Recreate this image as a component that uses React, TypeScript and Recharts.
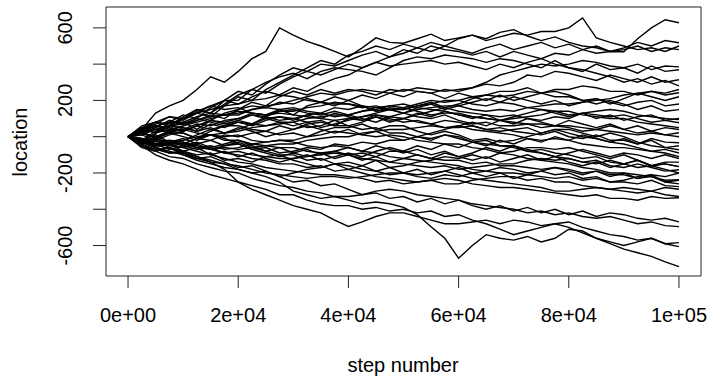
import { LineChart, Line, XAxis, YAxis, ReferenceArea, Customized } from "recharts";

const steps = [
  0, 2500, 5000, 7500, 10000, 12500, 15000, 17500, 20000, 22500, 25000, 27500, 30000, 32500,
  35000, 37500, 40000, 42500, 45000, 47500, 50000, 52500, 55000, 57500, 60000, 62500, 65000,
  67500, 70000, 72500, 75000, 77500, 80000, 82500, 85000, 87500, 90000, 92500, 95000, 97500,
  100000,
];

const walk01 = [0, 40, 130, 170, 200, 260, 330, 300, 360, 430, 470, 600, 560, 525, 500, 470, 440, 490, 545, 520, 515, 540, 565, 530, 545, 560, 540, 575, 590, 555, 530, 550, 520, 500, 490, 470, 480, 500, 470, 490, 480];
const walk02 = [0, -20, 30, 60, 100, 130, 110, 170, 220, 200, 260, 300, 340, 380, 420, 400, 450, 470, 500, 480, 510, 490, 520, 500, 540, 560, 530, 550, 570, 560, 580, 580, 600, 655, 545, 520, 500, 480, 490, 470, 500];
const walk03 = [0, 30, 60, 40, 100, 150, 130, 200, 250, 230, 290, 340, 380, 360, 400, 390, 420, 450, 470, 440, 480, 460, 500, 480, 470, 450, 470, 440, 470, 450, 430, 460, 450, 480, 460, 470, 468, 540, 600, 645, 628];
const walk04 = [0, 50, 20, 80, 120, 100, 160, 200, 200, 260, 300, 330, 350, 320, 360, 380, 370, 360, 340, 380, 420, 440, 430, 450, 440, 430, 410, 430, 420, 400, 380, 420, 380, 360, 400, 370, 380, 350, 390, 360, 369];
const walk05 = [0, -30, 20, 60, 80, 40, 90, 130, 150, 190, 170, 220, 250, 230, 260, 240, 260, 250, 230, 260, 250, 270, 260, 250, 260, 270, 290, 280, 300, 340, 330, 360, 350, 330, 310, 340, 320, 300, 330, 300, 314];
const walk06 = [0, 30, 60, 40, 60, 90, 120, 100, 150, 170, 160, 190, 180, 210, 190, 220, 200, 230, 210, 240, 220, 250, 240, 210, 240, 220, 200, 230, 200, 220, 240, 250, 230, 200, 210, 180, 210, 240, 220, 200, 220];
const walk07 = [0, 50, 80, 110, 100, 140, 170, 150, 160, 130, 120, 150, 120, 170, 190, 170, 200, 170, 140, 160, 150, 170, 190, 160, 180, 210, 230, 250, 250, 270, 240, 220, 220, 200, 180, 200, 180, 150, 170, 140, 149];
const walk08 = [0, 20, -10, 30, 40, 70, 60, 90, 100, 120, 110, 140, 150, 130, 120, 140, 120, 100, 80, 110, 100, 120, 140, 160, 140, 130, 120, 110, 120, 100, 90, 110, 100, 130, 120, 110, 120, 100, 80, 90, 77];
const walk09 = [0, -30, -10, -40, -20, 10, 40, 60, 80, 70, 110, 90, 100, 120, 130, 160, 150, 170, 140, 150, 130, 110, 100, 120, 90, 70, 80, 60, 60, 70, 50, 60, 50, 30, 40, 60, 40, 20, 30, 10, 22];
const walk10 = [0, 40, 20, 60, 50, 30, 50, 20, 40, 70, 60, 80, 80, 50, 60, 90, 60, 80, 110, 90, 100, 80, 70, 90, 80, 60, 40, 50, 30, 20, 10, 30, 0, -10, 10, -20, -20, -40, -10, -30, -33];
const walk11 = [0, 10, 40, 20, 20, -10, 30, 60, 60, 40, 30, 10, 20, 0, 30, 50, 50, 70, 40, 60, 60, 30, 10, 30, 10, -20, -10, -30, -20, 0, 20, 40, 40, 20, 0, 20, 0, -30, -50, -60, -72];
const walk12 = [0, -20, -50, -30, -40, -10, -20, 10, 0, 20, 30, 60, 40, 70, 80, 60, 100, 90, 120, 100, 80, 90, 70, 50, 50, 60, 40, 30, 40, 50, 20, 40, 20, 0, -10, -30, -40, -60, -80, -90, -110];
const walk13 = [0, 50, 20, 40, 30, 60, 90, 70, 90, 120, 100, 110, 100, 80, 90, 60, 60, 40, 50, 20, 20, 0, -10, 10, -10, -30, -40, -50, -60, -80, -70, -90, -100, -120, -110, -140, -150, -130, -160, -150, -165];
const walk14 = [0, -40, -20, -50, -60, -40, -70, -50, -40, -70, -60, -90, -80, -60, -70, -40, -50, -30, -40, -20, -20, 0, -20, 10, 0, -30, -20, -50, -50, -80, -90, -110, -120, -140, -130, -160, -170, -150, -170, -190, -182];
const walk15 = [0, -30, -60, -90, -80, -100, -90, -130, -120, -140, -110, -100, -100, -130, -120, -150, -140, -160, -130, -170, -160, -140, -130, -110, -120, -100, -120, -90, -100, -120, -130, -140, -150, -170, -180, -200, -200, -210, -220, -240, -237];
const walk16 = [0, -50, -80, -60, -100, -130, -150, -170, -180, -200, -190, -220, -200, -180, -170, -150, -160, -180, -190, -210, -200, -220, -230, -210, -220, -200, -190, -170, -180, -200, -190, -210, -200, -230, -220, -250, -250, -260, -240, -270, -275];
const walk17 = [0, -20, -40, -30, -50, -70, -60, -90, -100, -120, -130, -150, -150, -170, -160, -190, -180, -200, -220, -230, -240, -250, -240, -260, -260, -240, -230, -220, -220, -240, -230, -250, -250, -270, -280, -290, -300, -310, -300, -320, -330];
const walk18 = [0, -60, -80, -110, -120, -150, -170, -190, -200, -230, -250, -270, -280, -300, -310, -330, -330, -320, -300, -290, -300, -320, -330, -340, -350, -370, -380, -390, -400, -420, -410, -430, -420, -440, -450, -440, -460, -480, -470, -490, -496];
const walk19 = [0, -50, -100, -130, -150, -180, -210, -230, -250, -290, -320, -350, -380, -400, -420, -460, -495, -470, -440, -420, -420, -440, -460, -480, -480, -470, -460, -480, -460, -470, -490, -480, -470, -500, -520, -540, -550, -570, -560, -590, -584];
const walk20 = [0, -30, -60, -80, -100, -120, -140, -150, -180, -200, -220, -250, -300, -320, -340, -330, -350, -370, -360, -370, -390, -430, -496, -560, -670, -600, -540, -560, -570, -550, -580, -560, -510, -520, -560, -590, -620, -640, -660, -690, -716];
const walk21 = [0, -40, -20, -60, -80, -110, -140, -180, -250, -270, -290, -320, -320, -350, -370, -380, -380, -400, -390, -410, -400, -420, -410, -440, -430, -460, -480, -510, -540, -520, -500, -480, -500, -530, -560, -580, -600, -580, -560, -590, -606];
const walk22 = [0, 20, 50, 30, 60, 80, 100, 120, 120, 150, 170, 180, 200, 220, 240, 230, 250, 260, 250, 240, 260, 250, 240, 260, 250, 270, 300, 340, 360, 380, 400, 390, 400, 420, 410, 390, 380, 400, 370, 390, 385];
const walk23 = [0, 30, 60, 50, 30, 60, 90, 80, 100, 130, 120, 140, 140, 160, 170, 190, 180, 160, 170, 150, 160, 140, 120, 130, 130, 110, 100, 90, 100, 110, 120, 140, 120, 130, 140, 150, 140, 120, 110, 100, 94];
const walk24 = [0, -20, -40, -30, -30, -60, -50, -70, -60, -40, -30, -20, -20, 0, 10, 30, 20, 10, 0, 10, 0, -20, -30, -40, -40, -60, -70, -90, -80, -60, -60, -70, -60, -80, -100, -120, -100, -130, -160, -180, -200];
const walk25 = [0, 20, 0, 30, 20, -10, 10, -20, -20, -40, -50, -60, -60, -80, -90, -80, -100, -90, -110, -80, -80, -100, -120, -130, -130, -150, -140, -160, -160, -170, -180, -170, -180, -200, -190, -210, -210, -230, -220, -250, -260];
const walk26 = [0, -30, -50, -40, -40, -60, -70, -90, -80, -100, -110, -120, -120, -110, -100, -90, -100, -120, -130, -140, -150, -160, -170, -160, -180, -170, -160, -150, -150, -130, -120, -130, -120, -140, -150, -130, -150, -170, -160, -150, -165];
const walk27 = [0, 40, 60, 80, 80, 110, 130, 120, 130, 150, 160, 150, 160, 140, 130, 110, 120, 140, 150, 170, 160, 180, 200, 190, 200, 180, 170, 190, 180, 160, 150, 140, 140, 120, 110, 100, 100, 80, 70, 60, 50];
const walk28 = [0, 60, 80, 70, 100, 130, 150, 170, 180, 200, 210, 230, 220, 200, 190, 180, 180, 170, 160, 150, 150, 170, 180, 200, 200, 220, 230, 220, 230, 250, 240, 260, 260, 280, 270, 250, 250, 230, 250, 230, 242];
const walk29 = [0, -20, -10, -30, -20, 0, 10, 20, 30, 50, 60, 70, 80, 100, 110, 120, 120, 140, 160, 170, 180, 160, 150, 140, 120, 110, 100, 90, 80, 70, 70, 60, 60, 50, 40, 30, 20, 10, 20, 10, 0];
const walk30 = [0, -30, -50, -40, -60, -80, -100, -120, -140, -150, -170, -180, -190, -200, -210, -210, -220, -230, -250, -240, -260, -250, -240, -230, -240, -260, -270, -280, -280, -290, -300, -310, -320, -330, -320, -340, -340, -350, -330, -340, -337];
const walk31 = [0, 20, 40, 30, 40, 20, 10, 0, 10, -20, -30, -20, -30, -50, -60, -50, -60, -80, -90, -110, -120, -130, -140, -150, -160, -180, -190, -200, -200, -210, -220, -230, -220, -240, -230, -250, -240, -220, -210, -220, -200];
const walk32 = [0, -10, -30, -20, -30, -50, -70, -60, -70, -60, -50, -40, -40, -20, -10, 0, 0, 20, 30, 40, 40, 50, 60, 50, 60, 40, 30, 20, 10, -10, -20, -10, -20, -40, -50, -60, -60, -70, -80, -70, -90];
const walk33 = [0, 30, 40, 60, 70, 90, 110, 120, 140, 130, 120, 130, 120, 110, 100, 90, 100, 110, 120, 110, 130, 150, 160, 170, 170, 150, 140, 150, 140, 160, 170, 180, 180, 190, 200, 210, 230, 240, 250, 240, 260];
const walk34 = [0, -50, -70, -90, -90, -110, -130, -150, -160, -180, -200, -210, -220, -230, -220, -220, -230, -220, -210, -200, -200, -210, -200, -190, -210, -230, -240, -250, -260, -270, -280, -300, -300, -290, -280, -290, -280, -290, -300, -280, -290];
const walk35 = [0, 30, -10, 20, 50, 30, 70, 50, 80, 60, 90, 110, 90, 120, 100, 130, 110, 90, 110, 80, 100, 130, 110, 140, 120, 100, 120, 90, 110, 130, 150, 130, 110, 130, 100, 120, 90, 110, 120, 90, 100];
const walk36 = [0, -20, 10, -30, -10, -40, -20, -50, -30, -60, -80, -60, -90, -110, -90, -120, -100, -130, -110, -140, -120, -100, -120, -90, -110, -130, -110, -140, -120, -100, -130, -110, -140, -160, -140, -170, -150, -130, -160, -140, -140];
const walk37 = [0, 40, 80, 60, 110, 150, 130, 180, 230, 260, 240, 290, 330, 360, 340, 370, 400, 380, 410, 390, 400, 410, 420, 400, 410, 390, 370, 400, 380, 410, 430, 400, 380, 370, 350, 330, 300, 320, 290, 310, 280];
const walk38 = [0, -30, -60, -40, -80, -60, -100, -80, -110, -90, -120, -140, -120, -100, -130, -110, -90, -110, -80, -60, -80, -50, -70, -40, -60, -30, -50, -20, -40, -10, -30, 0, -20, 10, -10, -30, -10, -40, -20, -60, -50];
const walk39 = [0, 20, 50, 90, 70, 100, 80, 60, 90, 70, 100, 80, 60, 80, 50, 70, 90, 110, 130, 150, 130, 160, 180, 150, 170, 190, 210, 190, 220, 200, 180, 200, 170, 190, 210, 190, 170, 190, 200, 170, 180];
const walk40 = [0, -40, -70, -60, -90, -120, -110, -140, -170, -160, -190, -220, -250, -240, -270, -260, -290, -320, -310, -340, -330, -360, -340, -370, -350, -380, -400, -380, -410, -390, -420, -400, -430, -410, -440, -420, -430, -450, -460, -450, -470];
const walk41 = [0, 10, -20, 10, 30, 60, 40, 20, 50, 30, 0, 20, 40, 60, 40, 20, 40, 10, 30, 0, -20, 0, 20, 40, 60, 80, 60, 90, 70, 100, 80, 60, 90, 70, 50, 70, 40, 60, 30, 50, 40];
const walk42 = [0, -10, -40, -70, -50, -30, -60, -40, -20, -50, -80, -100, -130, -150, -170, -150, -180, -160, -190, -170, -200, -180, -210, -190, -170, -200, -220, -200, -230, -210, -190, -170, -190, -210, -190, -220, -200, -230, -210, -250, -240];
const walk43 = [0, 40, 70, 110, 90, 130, 170, 200, 180, 220, 250, 230, 270, 250, 290, 320, 340, 380, 410, 440, 460, 490, 470, 500, 480, 460, 490, 510, 480, 500, 520, 490, 510, 480, 500, 470, 490, 520, 500, 530, 518];
const walk44 = [0, -30, -10, 20, 0, -20, 10, -10, -40, -70, -90, -110, -90, -70, -100, -80, -60, -80, -50, -70, -90, -70, -100, -80, -110, -90, -60, -80, -50, -70, -90, -110, -90, -70, -90, -110, -90, -100, -120, -100, -120];

const walks = [
  walk01, walk02, walk03, walk04, walk05, walk06, walk07, walk08, walk09, walk10, walk11,
  walk12, walk13, walk14, walk15, walk16, walk17, walk18, walk19, walk20, walk21, walk22,
  walk23, walk24, walk25, walk26, walk27, walk28, walk29, walk30, walk31, walk32, walk33,
  walk34, walk35, walk36, walk37, walk38, walk39, walk40, walk41, walk42, walk43, walk44,
];

const xTicks = [0, 20000, 40000, 60000, 80000, 100000];
const xTickLabels = ["0e+00", "2e+04", "4e+04", "6e+04", "8e+04", "1e+05"];
const yTicks = [-600, -400, -200, 0, 200, 400, 600];
const yTickLabels = ["-600", "", "-200", "", "200", "", "600"];

const font = "'Liberation Sans', Arial, sans-serif";

const data = steps.map((step, i) => {
  const row: Record<string, number> = { step };
  walks.forEach((w, k) => {
    row[`w${k}`] = w[i];
  });
  return row;
});

const XTick = (props: any) => {
  const { x, y, payload } = props;
  const label = xTickLabels[xTicks.indexOf(payload.value)];
  return (
    <g>
      <line x1={x} x2={x} y1={y} y2={y + 12} stroke="#222" strokeWidth={1} />
      <text x={x} y={y + 46} textAnchor="middle" fontSize={20} fontFamily={font} fill="#000">
        {label}
      </text>
    </g>
  );
};

const YTick = (props: any) => {
  const { x, y, payload } = props;
  const label = yTickLabels[yTicks.indexOf(payload.value)];
  const tx = x - 34;
  return (
    <g>
      <line x1={x - 13} x2={x} y1={y} y2={y} stroke="#222" strokeWidth={1} />
      {label && (
        <text
          x={tx}
          y={y}
          transform={`rotate(-90, ${tx}, ${y})`}
          textAnchor="middle"
          fontSize={20}
          fontFamily={font}
          fill="#000"
        >
          {label}
        </text>
      )}
    </g>
  );
};

const AxisTitles = () => (
  <g>
    <text x={403} y={372} textAnchor="middle" fontSize={20} fontFamily={font} fill="#000">
      step number
    </text>
    <text
      x={27}
      y={142}
      transform="rotate(-90, 27, 142)"
      textAnchor="middle"
      fontSize={20}
      fontFamily={font}
      fill="#000"
    >
      location
    </text>
  </g>
);

const RandomWalkChart = () => {
  return (
    <div style={{ position: "absolute", left: 0, top: 0, background: "#fff" }}>
      <LineChart width={708} height={377} data={data} margin={{ top: 7, right: 7, left: 0, bottom: 0 }}>
        <XAxis
          type="number"
          dataKey="step"
          domain={[-4000, 104000]}
          ticks={xTicks}
          interval={0}
          height={101}
          axisLine={false}
          tickLine={false}
          tickSize={0}
          tickMargin={0}
          tick={<XTick />}
          allowDataOverflow
        />
        <YAxis
          type="number"
          domain={[-768, 715]}
          ticks={yTicks}
          interval={0}
          width={106}
          axisLine={false}
          tickLine={false}
          tickSize={0}
          tickMargin={0}
          tick={<YTick />}
          allowDataOverflow
        />
        {walks.map((_, k) => (
          <Line
            key={k}
            type="linear"
            dataKey={`w${k}`}
            stroke="#000"
            strokeWidth={1.4}
            dot={false}
            isAnimationActive={false}
          />
        ))}
        <ReferenceArea x1={-4000} x2={104000} y1={-768} y2={715} fill="none" stroke="#222" strokeWidth={1} />
        <Customized component={AxisTitles} />
      </LineChart>
    </div>
  );
};

export default RandomWalkChart;
